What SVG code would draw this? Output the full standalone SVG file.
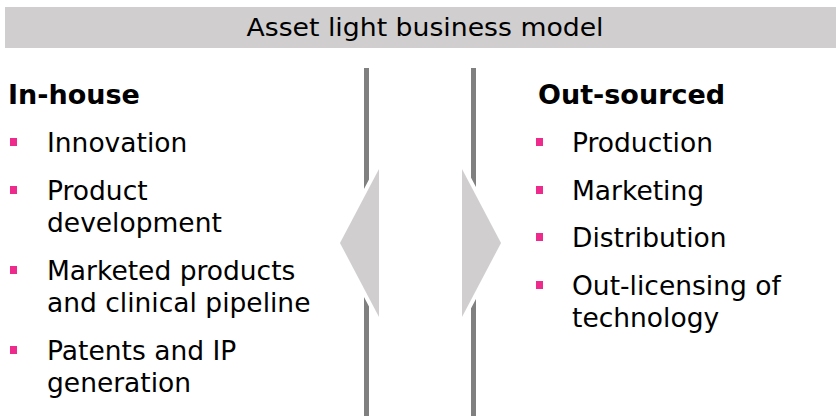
<svg xmlns="http://www.w3.org/2000/svg" width="836" height="416" viewBox="0 0 836 416">
<style>
.t{font-family:"DejaVu Sans","Verdana",sans-serif;font-size:26.5px;fill:#000}
.h{font-family:"DejaVu Sans","Verdana",sans-serif;font-size:27px;font-weight:bold;fill:#000}
.b{fill:#ee2a8c}
.ln{stroke:#808080;stroke-width:5}
.ar{fill:#d0cecf;stroke:#fff;stroke-width:8;stroke-linejoin:miter;paint-order:stroke}
</style>
<g id="header">
<rect x="5" y="7" width="831" height="41" fill="#d0cecf"/>
<text x="425" y="36" text-anchor="middle" font-family="DejaVu Sans, sans-serif" font-size="24" textLength="357" lengthAdjust="spacingAndGlyphs">Asset light business model</text>
</g>
<g id="connectors">
<line class="ln" x1="366.5" y1="68" x2="366.5" y2="416"/>
<line class="ln" x1="473.5" y1="68" x2="473.5" y2="416"/>
<polygon class="ar" points="379,169 340,243 379,317"/>
<polygon class="ar" points="462,169 501,243 462,317"/>
</g>
<g id="inhouse">
<text class="h" x="8" y="104">In-house</text>
<rect class="b" x="10" y="138" width="7" height="8"/>
<text class="t" x="47" y="152">Innovation</text>
<rect class="b" x="10" y="186" width="7" height="8"/>
<text class="t" x="47" y="200">Product</text>
<text class="t" x="47" y="232">development</text>
<rect class="b" x="10" y="266" width="7" height="8"/>
<text class="t" x="47" y="280">Marketed products</text>
<text class="t" x="47" y="312">and clinical pipeline</text>
<rect class="b" x="10" y="346" width="7" height="8"/>
<text class="t" x="47" y="360">Patents and IP</text>
<text class="t" x="47" y="392">generation</text>
</g>
<g id="outsourced">
<text class="h" x="538" y="104">Out-sourced</text>
<rect class="b" x="536" y="138" width="7" height="8"/>
<text class="t" x="572" y="152">Production</text>
<rect class="b" x="536" y="186" width="7" height="8"/>
<text class="t" x="572" y="200">Marketing</text>
<rect class="b" x="536" y="233" width="7" height="8"/>
<text class="t" x="572" y="247">Distribution</text>
<rect class="b" x="536" y="281" width="7" height="8"/>
<text class="t" x="572" y="295">Out-licensing of</text>
<text class="t" x="572" y="327">technology</text>
</g>
</svg>
